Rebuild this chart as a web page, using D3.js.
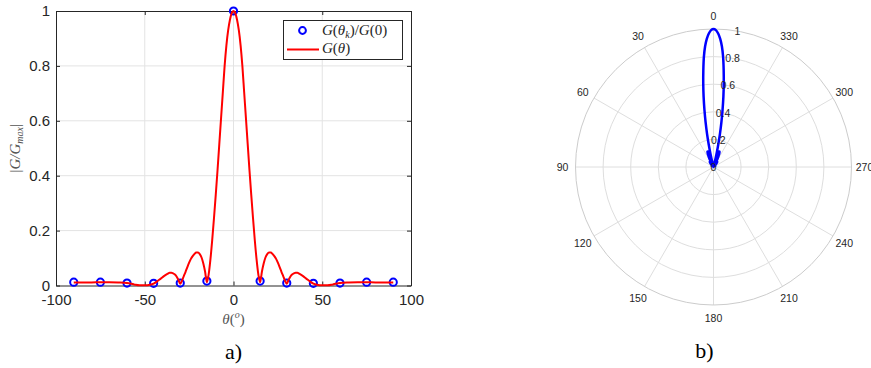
<!DOCTYPE html>
<html>
<head>
<meta charset="utf-8">
<script src="https://cdn.jsdelivr.net/npm/d3@7"></script>
<style>
  html, body { margin: 0; padding: 0; background: #fff; }
  svg { display: block; }
</style>
</head>
<body>
<svg class="svg-container" width="871" height="368"></svg>
<script>
// Sampled angles (deg) of the continuous gain curve and its normalised value |G/Gmax|
const curveTheta = [
  -90, -85, -80, -75, -70, -65, -60, -56, -53, -50, -47, -45, -43, -41, -39, -37, -36, -35, -34, -33, -32, -31,
  -30, -29, -28, -27, -26, -25, -24, -23, -22, -21, -20, -19, -18, -17, -16,
  -15, -14, -13, -12, -11, -10, -9, -8, -7, -6, -5, -4, -3, -2, -1,
  0, 1, 2, 3, 4, 5, 6, 7, 8, 9, 10, 11, 12, 13, 14, 15,
  16, 17, 18, 19, 20, 21, 22, 23, 24, 25, 26, 27, 28, 29, 30,
  31, 32, 33, 34, 35, 36, 37, 39, 41, 43, 45, 47, 50, 53, 56, 60, 65, 70, 75, 80, 85, 90
];
const curveGain = [
  0.011, 0.011, 0.011, 0.012, 0.012, 0.011, 0.009, 0.004, 0.001, 0.001, 0.003, 0.007, 0.015, 0.025, 0.035, 0.043, 0.046, 0.046, 0.044, 0.040, 0.032, 0.020,
  0.006, 0.018, 0.034, 0.050, 0.067, 0.083, 0.097, 0.107, 0.115, 0.120, 0.120, 0.114, 0.102, 0.080, 0.050,
  0.012, 0.040, 0.095, 0.165, 0.245, 0.330, 0.420, 0.515, 0.610, 0.705, 0.800, 0.875, 0.930, 0.968, 0.992,
  1.000, 0.992, 0.968, 0.930, 0.875, 0.800, 0.705, 0.610, 0.515, 0.420, 0.330, 0.245, 0.165, 0.095, 0.040, 0.012,
  0.050, 0.080, 0.102, 0.114, 0.120, 0.120, 0.115, 0.107, 0.097, 0.083, 0.067, 0.050, 0.034, 0.018, 0.006,
  0.020, 0.032, 0.040, 0.044, 0.046, 0.046, 0.043, 0.035, 0.025, 0.015, 0.007, 0.003, 0.001, 0.001, 0.004, 0.009, 0.011, 0.012, 0.012, 0.011, 0.011, 0.011
];

// Sampled directions theta_k and G(theta_k)/G(0)
const sampleTheta = [-90, -75, -60, -45, -30, -15, 0, 15, 30, 45, 60, 75, 90];
const sampleGain = [0.012, 0.012, 0.009, 0.008, 0.009, 0.016, 1.0, 0.016, 0.009, 0.008, 0.009, 0.012, 0.012];

// Tick values
const xTicks = [-100, -50, 0, 50, 100];
const yTicks = [0, 0.2, 0.4, 0.6, 0.8, 1];
const polarRings = [0.2, 0.4, 0.6, 0.8, 1];
const polarRingLabels = ['0', '0.2', '0.4', '0.6', '0.8', '1'];
const polarAngles = [0, 30, 60, 90, 120, 150, 180, 210, 240, 270, 300, 330];

const AXIS_COLOR = '#262626';
const GRID_COLOR = '#e3e3e3';
const SANS = '"Liberation Sans", Arial, sans-serif';
const SERIF = '"Liberation Serif", "Times New Roman", serif';

const svg = d3.select('.svg-container');
const curvePoints = curveTheta.map((t, i) => ({ t, g: curveGain[i] }));
const samplePoints = sampleTheta.map((t, i) => ({ t, g: sampleGain[i] }));

// ---------------- a) cartesian plot ----------------
function drawCartesian() {
  const left = 56, right = 411, top = 11, bottom = 285.5;
  const x = d3.scaleLinear().domain([-100, 100]).range([left, right]);
  const y = d3.scaleLinear().domain([0, 1]).range([bottom, top]);

  const g = svg.append('g');

  // grid
  g.selectAll('line.gx').data(xTicks.slice(1, -1)).enter().append('line')
    .attr('x1', d => x(d)).attr('x2', d => x(d)).attr('y1', top).attr('y2', bottom)
    .attr('stroke', GRID_COLOR).attr('stroke-width', 1);
  g.selectAll('line.gy').data(yTicks.slice(1, -1)).enter().append('line')
    .attr('x1', left).attr('x2', right).attr('y1', d => y(d)).attr('y2', d => y(d))
    .attr('stroke', GRID_COLOR).attr('stroke-width', 1);

  // axes with inward ticks, box on
  const xAxis = g.append('g').attr('transform', `translate(0,${bottom})`)
    .call(d3.axisBottom(x).tickValues(xTicks).tickSizeInner(-4).tickSizeOuter(0).tickPadding(9));
  const yAxis = g.append('g').attr('transform', `translate(${left},0)`)
    .call(d3.axisLeft(y).tickValues(yTicks).tickFormat(d3.format('~g')).tickSizeInner(-4).tickSizeOuter(0).tickPadding(6));
  g.append('g').attr('transform', `translate(0,${top})`)
    .call(d3.axisTop(x).tickValues(xTicks).tickSizeInner(-4).tickSizeOuter(0).tickFormat(''));
  g.append('g').attr('transform', `translate(${right},0)`)
    .call(d3.axisRight(y).tickValues(yTicks).tickSizeInner(-4).tickSizeOuter(0).tickFormat(''));

  g.selectAll('.domain, .tick line').attr('stroke', AXIS_COLOR);
  [xAxis, yAxis].forEach(a => a.selectAll('text')
    .attr('fill', AXIS_COLOR).style('font-family', SANS).style('font-size', '15px'));
  xAxis.selectAll('text').text(d => d < 0 ? '-' + Math.abs(d) : d);

  // markers first, line on top
  g.selectAll('circle.sample').data(samplePoints).enter().append('circle')
    .attr('cx', d => x(d.t)).attr('cy', d => y(d.g)).attr('r', 3.6)
    .attr('fill', 'none').attr('stroke', '#0000ff').attr('stroke-width', 2);

  g.append('path').datum(curvePoints)
    .attr('d', d3.line().x(d => x(d.t)).y(d => y(d.g)).curve(d3.curveMonotoneX))
    .attr('fill', 'none').attr('stroke', '#ff0000').attr('stroke-width', 2);

  // axis labels
  const xl = g.append('text').attr('x', x(0)).attr('y', 324).attr('text-anchor', 'middle')
    .style('font-family', SERIF).style('font-size', '15px').attr('fill', '#555');
  xl.append('tspan').style('font-style', 'italic').text('θ');
  xl.append('tspan').text('(');
  xl.append('tspan').style('font-style', 'italic').style('font-size', '10px').attr('dy', -6).text('o');
  xl.append('tspan').attr('dy', 6).text(')');

  const yl = g.append('text').attr('transform', `translate(20,${y(0.5)}) rotate(-90)`)
    .attr('text-anchor', 'middle').style('font-family', SERIF).style('font-size', '15px').attr('fill', '#555');
  yl.append('tspan').text('|');
  yl.append('tspan').style('font-style', 'italic').text('G/G');
  yl.append('tspan').style('font-style', 'italic').style('font-size', '10px').attr('dy', 3).text('max');
  yl.append('tspan').attr('dy', -3).text('|');

  // legend
  const lg = g.append('g');
  lg.append('rect').attr('x', 283.5).attr('y', 20.5).attr('width', 119).attr('height', 39)
    .attr('fill', '#fff').attr('stroke', AXIS_COLOR).attr('stroke-width', 1);
  lg.append('circle').attr('cx', 302.5).attr('cy', 30.5).attr('r', 3.4)
    .attr('fill', 'none').attr('stroke', '#0000ff').attr('stroke-width', 2);
  lg.append('line').attr('x1', 287).attr('x2', 319).attr('y1', 49.5).attr('y2', 49.5)
    .attr('stroke', '#ff0000').attr('stroke-width', 2);

  const t1 = lg.append('text').attr('x', 322).attr('y', 35).style('font-family', SERIF)
    .style('font-size', '15px').style('font-style', 'italic').attr('fill', AXIS_COLOR);
  t1.append('tspan').text('G');
  t1.append('tspan').style('font-style', 'normal').text('(');
  t1.append('tspan').text('θ');
  t1.append('tspan').style('font-size', '10px').attr('dy', 3).text('k');
  t1.append('tspan').style('font-style', 'normal').attr('dy', -3).text(')/');
  t1.append('tspan').text('G');
  t1.append('tspan').style('font-style', 'normal').text('(0)');

  const t2 = lg.append('text').attr('x', 322).attr('y', 53).style('font-family', SERIF)
    .style('font-size', '15px').style('font-style', 'italic').attr('fill', AXIS_COLOR);
  t2.append('tspan').text('G');
  t2.append('tspan').style('font-style', 'normal').text('(');
  t2.append('tspan').text('θ');
  t2.append('tspan').style('font-style', 'normal').text(')');

  svg.append('text').attr('x', x(0)).attr('y', 359).attr('text-anchor', 'middle')
    .style('font-family', SERIF).style('font-size', '22px').attr('fill', '#000').text('a)');
}

// ---------------- b) polar plot ----------------
function drawPolar() {
  const cx = 713.5, cy = 167, R = 138;
  const r = d3.scaleLinear().domain([0, 1]).range([0, R]);
  // theta measured counter-clockwise from the top
  const toXY = (deg, rad) => [cx - rad * Math.sin(deg * Math.PI / 180), cy - rad * Math.cos(deg * Math.PI / 180)];

  const g = svg.append('g');

  g.selectAll('line.spoke').data(polarAngles).enter().append('line')
    .attr('x1', cx).attr('y1', cy)
    .attr('x2', d => toXY(d, R)[0]).attr('y2', d => toXY(d, R)[1])
    .attr('stroke', '#dedede').attr('stroke-width', 1);

  g.selectAll('circle.ring').data(polarRings).enter().append('circle')
    .attr('cx', cx).attr('cy', cy).attr('r', d => r(d))
    .attr('fill', 'none').attr('stroke', d => d === 1 ? '#cccccc' : '#dedede').attr('stroke-width', 1);

  g.selectAll('text.ang').data(polarAngles).enter().append('text')
    .attr('x', d => toXY(d, 151)[0]).attr('y', d => toXY(d, 151)[1])
    .attr('text-anchor', 'middle').attr('dominant-baseline', 'central')
    .style('font-family', SANS).style('font-size', '10.5px').attr('fill', AXIS_COLOR)
    .text(d => d);

  g.append('path').datum(curvePoints)
    .attr('transform', `translate(${cx},${cy})`)
    .attr('d', d3.lineRadial().angle(d => -d.t * Math.PI / 180).radius(d => r(d.g)).curve(d3.curveCatmullRom))
    .attr('fill', 'none').attr('stroke', '#0000ff').attr('stroke-width', 2.5).attr('stroke-linejoin', 'round');

  // radial labels along 350 deg
  g.selectAll('text.rl').data(polarRingLabels).enter().append('text')
    .attr('x', d => toXY(-10, r(+d))[0]).attr('y', d => toXY(-10, r(+d))[1])
    .attr('text-anchor', 'middle').attr('dominant-baseline', 'central')
    .style('font-family', SANS).style('font-size', '10.5px').attr('fill', AXIS_COLOR)
    .text(d => d);

  svg.append('text').attr('x', 704.5).attr('y', 358).attr('text-anchor', 'middle')
    .style('font-family', SERIF).style('font-size', '22px').attr('fill', '#000').text('b)');
}

drawCartesian();
drawPolar();
</script>
</body>
</html>
